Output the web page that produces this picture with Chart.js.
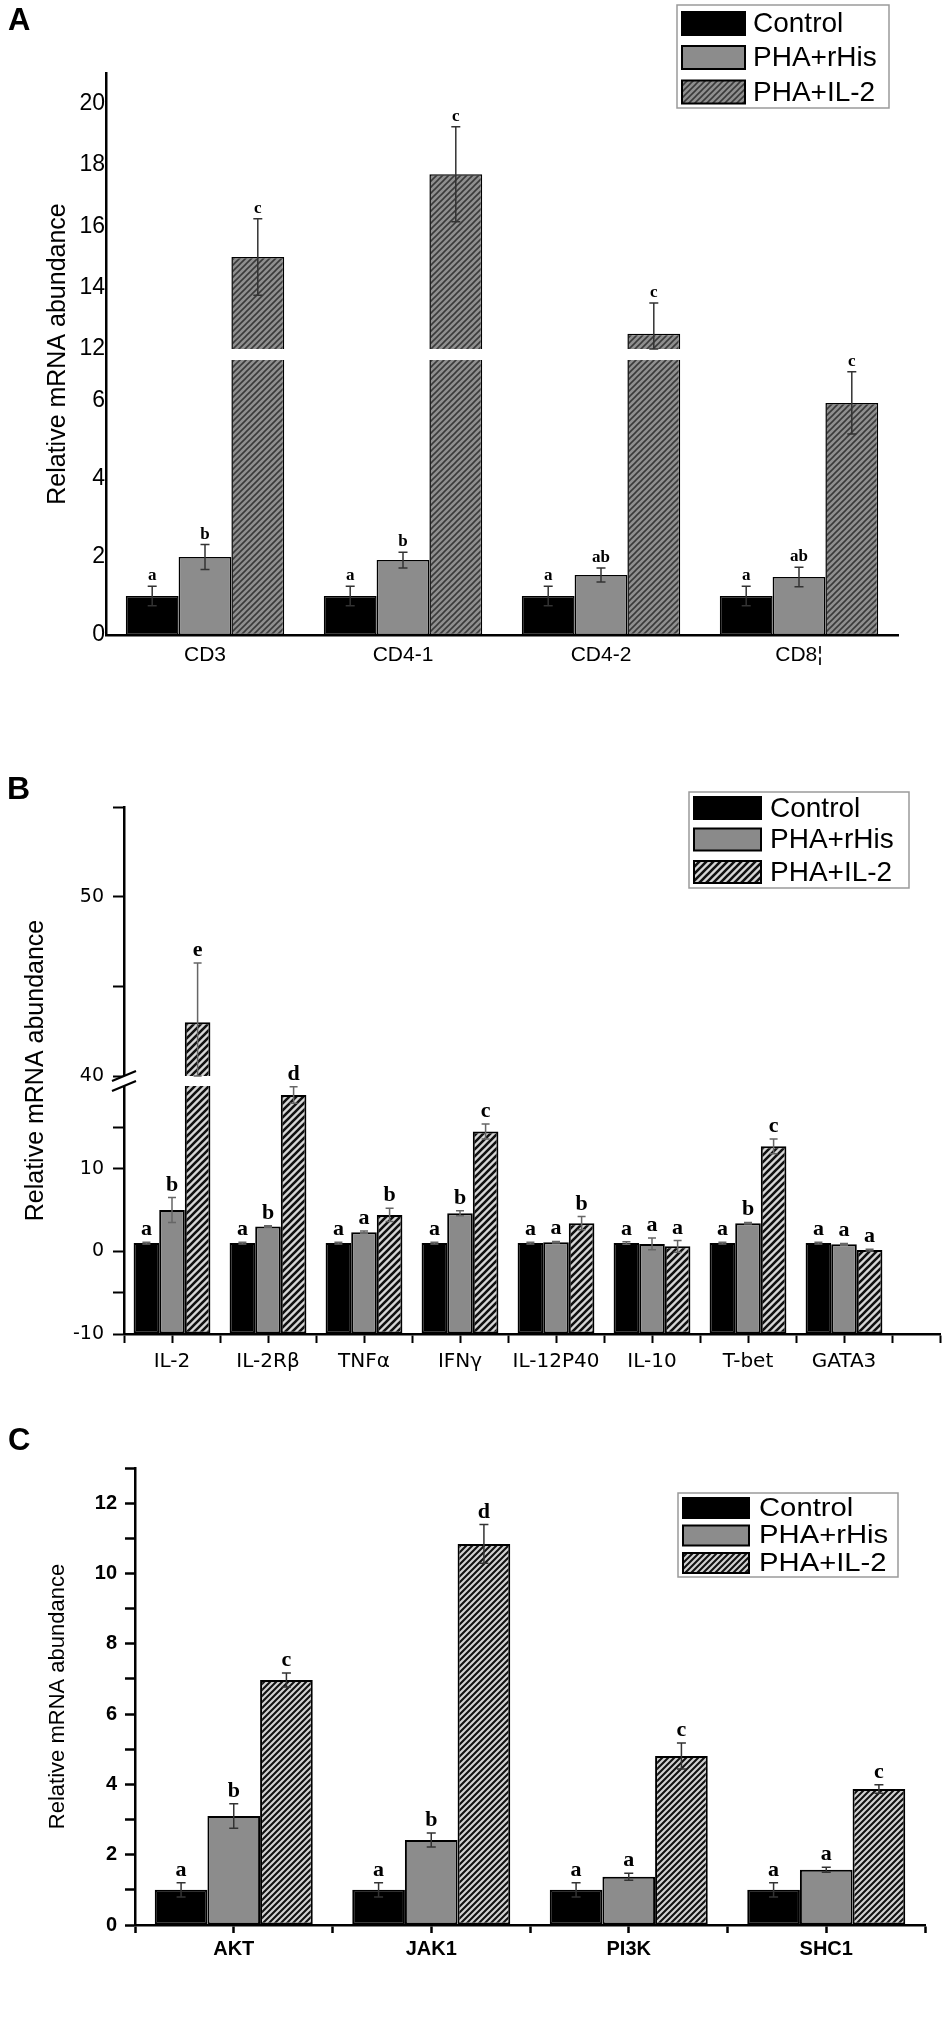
<!DOCTYPE html>
<html><head><meta charset="utf-8">
<script src="https://cdn.jsdelivr.net/npm/chart.js@4.4.1/dist/chart.umd.min.js"></script>
<style>
html,body{margin:0;padding:0;background:#fff;}
#page{position:relative;width:950px;height:2044px;overflow:hidden;background:#fff;}
canvas{position:absolute;left:0;}
.plbl{position:absolute;font-family:Arial,"Liberation Sans",sans-serif;font-weight:bold;color:#000;line-height:1;}
</style></head><body>
<div id="page">
<canvas id="cA" width="950" height="700" style="top:0px"></canvas>
<canvas id="cB" width="950" height="700" style="top:700px"></canvas>
<canvas id="cC" width="950" height="644" style="top:1400px"></canvas>
<div class="plbl" style="left:8px;top:4px;font-size:31px;">A</div>
<div class="plbl" style="left:7px;top:772px;font-size:32px;">B</div>
<div class="plbl" style="left:8px;top:1424px;font-size:31px;">C</div>
</div>
<script>
// ---------------- DATA ----------------
const seriesNames = ['Control', 'PHA+rHis', 'PHA+IL-2'];

// Panel A
const catsA = ['CD3', 'CD4-1', 'CD4-2', 'CD8¦'];
const ctrlA = [1.0, 1.0, 1.0, 1.0];
const ctrlErrA = [0.25, 0.25, 0.25, 0.25];
const rhisA = [2.0, 1.92, 1.54, 1.49];
const rhisErrA = [0.32, 0.2, 0.18, 0.25];
const il2A = [15.0, 17.7, 12.5, 5.95];
const il2ErrA = [1.25, 1.55, 1.0, 0.8];
const ctrlLetA = ['a', 'a', 'a', 'a'];
const rhisLetA = ['b', 'b', 'ab', 'ab'];
const il2LetA = ['c', 'c', 'c', 'c'];
const yTicksA = [0, 2, 4, 6, 12, 14, 16, 18, 20];

// Panel B
const catsB = ['IL-2', 'IL-2Rβ', 'TNFα', 'IFNγ', 'IL-12P40', 'IL-10', 'T-bet', 'GATA3'];
const ctrlB = [1, 1, 1, 1, 1, 1, 1, 1];
const ctrlErrB = [0.1, 0.1, 0.1, 0.1, 0.1, 0.15, 0.1, 0.1];
const rhisB = [5.0, 3.0, 2.3, 4.6, 1.1, 0.9, 3.4, 0.85];
const rhisErrB = [1.5, 0.1, 0.15, 0.3, 0.1, 0.7, 0.1, 0.1];
const il2B = [43.0, 18.9, 4.4, 14.5, 3.4, 0.6, 12.7, 0.15];
const il2ErrB = [3.3, 1.0, 0.8, 0.9, 0.8, 0.7, 0.9, 0.1];
const ctrlLetB = ['a', 'a', 'a', 'a', 'a', 'a', 'a', 'a'];
const rhisLetB = ['b', 'b', 'a', 'b', 'a', 'a', 'b', 'a'];
const il2LetB = ['e', 'd', 'b', 'c', 'b', 'a', 'c', 'a'];
const yTicksB = [-10, -5, 0, 10, 15, 40, 45, 50, 55];
const yLabelsB = [-10, 0, 10, 40, 50];

// Panel C
const catsC = ['AKT', 'JAK1', 'PI3K', 'SHC1'];
const ctrlC = [1.0, 1.0, 1.0, 1.0];
const ctrlErrC = [0.2, 0.2, 0.2, 0.2];
const rhisC = [3.1, 2.42, 1.37, 1.57];
const rhisErrC = [0.35, 0.2, 0.1, 0.07];
const il2C = [6.97, 10.84, 4.81, 3.87];
const il2ErrC = [0.2, 0.55, 0.37, 0.12];
const ctrlLetC = ['a', 'a', 'a', 'a'];
const rhisLetC = ['b', 'b', 'a', 'a'];
const il2LetC = ['c', 'd', 'c', 'c'];

// ---------------- STYLE / LAYOUT ----------------
const SANS = 'Arial, "Liberation Sans", sans-serif';
const WIDE = '"DejaVu Sans", Verdana, sans-serif';
const SERIF = '"Times New Roman", "Liberation Serif", serif';

// axis breaks (value range hidden, and share of axis height)
const BREAKS = {
  cA: {low: 7.05, high: 12, lowFrac: 275 / 562, gapFrac: 11 / 562, ticks: yTicksA},
  cB: {low: 20, high: 40, lowFrac: 248 / 527, gapFrac: 10 / 527, ticks: yTicksB}
};

const STYLE = {
  cA: {errColor: '#333', errWidth: 1.5, cap: 9, letterFont: 'bold 17px ' + SERIF, letterGap: 6, breakMarks: false,
       legend: {x: 677, y: 5, w: 212, h: 103, sx: 682, sw: 63, sh: 23, rows: [23.5, 57.5, 92], tx: 753, font: '28px ' + SANS, scaleX: 1}},
  cB: {errColor: '#666', errWidth: 1.5, cap: 8, letterFont: 'bold 22px ' + SERIF, letterGap: 7, breakMarks: true,
       legend: {x: 689, y: 92, w: 220, h: 96, sx: 694, sw: 67, sh: 22, rows: [108, 139.5, 172], tx: 770, font: '28px ' + SANS, scaleX: 1}},
  cC: {errColor: '#333', errWidth: 1.5, cap: 9, letterFont: 'bold 22px ' + SERIF, letterGap: 7, breakMarks: false,
       legend: {x: 678, y: 93, w: 220, h: 84, sx: 683, sw: 66, sh: 20, rows: [108, 135.5, 163], tx: 759, font: '25px ' + SANS, scaleX: 1.17}}
};

// ---------------- BROKEN AXIS SCALE ----------------
class BrokenLinearScale extends Chart.LinearScale {
  buildTicks() {
    const b = BREAKS[this.chart.canvas.id];
    return b.ticks.map(v => ({value: v}));
  }
  _seg() {
    const b = BREAKS[this.chart.canvas.id];
    const H = this.bottom - this.top;
    const lowPx = H * b.lowFrac, gapPx = H * b.gapFrac;
    return {b, lowPx, gapPx, upPx: H - lowPx - gapPx};
  }
  getPixelForValue(v) {
    const {b, lowPx, gapPx, upPx} = this._seg();
    if (v > b.low && v < b.high) v = (v - b.low < b.high - v) ? b.low : b.high;
    if (v <= b.low) return this.bottom - (v - this.min) / (b.low - this.min) * lowPx;
    return this.bottom - lowPx - gapPx - (v - b.high) / (this.max - b.high) * upPx;
  }
  getValueForPixel(p) {
    const {b, lowPx, gapPx, upPx} = this._seg();
    const d = this.bottom - p;
    if (d <= lowPx) return this.min + d / lowPx * (b.low - this.min);
    if (d <= lowPx + gapPx) return b.low;
    return b.high + (d - lowPx - gapPx) / upPx * (this.max - b.high);
  }
}
BrokenLinearScale.id = 'brokenLinear';
Chart.register(BrokenLinearScale);

// ---------------- OVERLAY PLUGIN (error bars, letters, break, legend) ----------------
const overlay = {
  id: 'overlay',
  afterDatasetsDraw(chart) {
    const id = chart.canvas.id;
    const st = STYLE[id];
    const {ctx, chartArea: ca} = chart;
    const y = chart.scales.y;
    ctx.save();
    const brk = BREAKS[id];
    if (brk) {
      const yTop = y.getPixelForValue(brk.high), yBot = y.getPixelForValue(brk.low);
      ctx.fillStyle = '#fff';
      ctx.fillRect(ca.left + 2, yTop, ca.right - ca.left - 2, yBot - yTop);
    }
    chart.data.datasets.forEach((ds, di) => {
      const meta = chart.getDatasetMeta(di);
      meta.data.forEach((bar, i) => {
        const v = ds.data[i].y, e = ds.errs[i];
        const cx = bar.x;
        const yHi = y.getPixelForValue(v + e), yLo = y.getPixelForValue(v - e);
        ctx.strokeStyle = st.errColor;
        ctx.lineWidth = st.errWidth;
        ctx.beginPath();
        ctx.moveTo(cx, yHi); ctx.lineTo(cx, yLo);
        ctx.moveTo(cx - st.cap / 2, yHi); ctx.lineTo(cx + st.cap / 2, yHi);
        ctx.moveTo(cx - st.cap / 2, yLo); ctx.lineTo(cx + st.cap / 2, yLo);
        ctx.stroke();
        ctx.fillStyle = '#000';
        ctx.font = st.letterFont;
        ctx.textAlign = 'center';
        ctx.textBaseline = 'alphabetic';
        ctx.fillText(ds.letters[i], cx, Math.min(yHi, bar.y) - st.letterGap);
      });
    });
    ctx.restore();
  },
  afterDraw(chart) {
    const id = chart.canvas.id;
    const st = STYLE[id];
    const {ctx, chartArea: ca} = chart;
    const y = chart.scales.y;
    ctx.save();
    if (st.breakMarks) {
      const brk = BREAKS[id];
      const yA = y.getPixelForValue(brk.high), yB = y.getPixelForValue(brk.low);
      const xl = ca.left;
      ctx.fillStyle = '#fff';
      ctx.beginPath();
      ctx.moveTo(xl - 12, yA + 5); ctx.lineTo(xl + 12, yA - 5);
      ctx.lineTo(xl + 12, yB - 5); ctx.lineTo(xl - 12, yB + 5);
      ctx.closePath(); ctx.fill();
      ctx.strokeStyle = '#000'; ctx.lineWidth = 2.2;
      ctx.beginPath();
      ctx.moveTo(xl - 12, yA + 5); ctx.lineTo(xl + 12, yA - 5);
      ctx.moveTo(xl - 12, yB + 5); ctx.lineTo(xl + 12, yB - 5);
      ctx.stroke();
    }
    const L = st.legend;
    ctx.fillStyle = '#fff';
    ctx.fillRect(L.x, L.y, L.w, L.h);
    ctx.strokeStyle = '#9a9a9a'; ctx.lineWidth = 1.5;
    ctx.strokeRect(L.x, L.y, L.w, L.h);
    chart.data.datasets.forEach((ds, k) => {
      const cy = L.rows[k];
      ctx.fillStyle = ds.backgroundColor;
      ctx.fillRect(L.sx, cy - L.sh / 2, L.sw, L.sh);
      ctx.strokeStyle = '#000'; ctx.lineWidth = 2;
      ctx.strokeRect(L.sx, cy - L.sh / 2, L.sw, L.sh);
      ctx.fillStyle = '#000';
      ctx.font = L.font;
      ctx.textAlign = 'left';
      ctx.textBaseline = 'middle';
      ctx.save();
      ctx.translate(L.tx, cy + 1);
      ctx.scale(L.scaleX, 1);
      ctx.fillText(ds.label, 0, 0);
      ctx.restore();
    });
    ctx.restore();
  }
};

// ---------------- HELPERS ----------------
function hatch(ctx, bg, fg, step, lw) {
  const c = document.createElement('canvas');
  c.width = step; c.height = step;
  const g = c.getContext('2d');
  g.fillStyle = bg; g.fillRect(0, 0, step, step);
  g.strokeStyle = fg; g.lineWidth = lw;
  g.beginPath();
  g.moveTo(-2, step + 2); g.lineTo(step + 2, -2);
  g.moveTo(-2, 2); g.lineTo(2, -2);
  g.moveTo(step - 2, step + 2); g.lineTo(step + 2, step - 2);
  g.stroke();
  return ctx.createPattern(c, 'repeat');
}
function catLabel(cats) {
  return v => {
    const r = Math.round(v);
    return (Math.abs(v - r) < 1e-6 && r >= 1 && r <= cats.length) ? cats[r - 1] : '';
  };
}
function makeDatasets(values, errs, letters, fills, borderWidth, base) {
  return values.map((vals, k) => ({
    label: seriesNames[k],
    data: vals.map((v, i) => ({x: i + 1, y: v})),
    errs: errs[k],
    letters: letters[k],
    backgroundColor: fills[k],
    borderColor: '#000',
    borderWidth: borderWidth,
    borderSkipped: false,
    base: base,
    // x ticks step is half a category, so 1.6 of a tick step = 0.8 of a category
    categoryPercentage: 1.6,
    barPercentage: 1.0
  }));
}
const commonOpts = {
  responsive: false,
  animation: false,
  events: [],
  plugins: {legend: {display: false}, tooltip: {enabled: false}}
};

// ---------------- PANEL A ----------------
(function () {
  const ctx = document.getElementById('cA').getContext('2d');
  const fills = ['#000000', '#8c8c8c', hatch(ctx, '#8f8f8f', '#3a3a3a', 6, 1.6)];
  new Chart(ctx, {
    type: 'bar',
    data: {datasets: makeDatasets([ctrlA, rhisA, il2A], [ctrlErrA, rhisErrA, il2ErrA], [ctrlLetA, rhisLetA, il2LetA], fills, 1.5, 0)},
    options: Object.assign({}, commonOpts, {
      layout: {padding: {top: 73, right: 52, left: 0, bottom: 0}},
      scales: {
        x: {
          type: 'linear', min: 0.5, max: catsA.length + 0.5, offset: false,
          grid: {display: false, drawTicks: false, offset: false},
          border: {display: true, color: '#000', width: 2.5},
          ticks: {stepSize: 0.5, autoSkip: false, maxRotation: 0, padding: 8, color: '#000',
                  font: {family: SANS, size: 21}, callback: catLabel(catsA)},
          afterFit: s => { s.height = 65; }
        },
        y: {
          type: 'brokenLinear', min: 0, max: 21,
          grid: {display: false, drawTicks: false},
          border: {display: true, color: '#000', width: 2.5},
          ticks: {padding: 1, color: '#000', font: {family: SANS, size: 23}, callback: v => String(v)},
          title: {display: true, text: 'Relative mRNA abundance', color: '#000',
                  font: {family: SANS, size: 25}, padding: {top: 43, bottom: 0}},
          afterFit: s => { s.width = 106; }
        }
      }
    }),
    plugins: [overlay]
  });
})();

// ---------------- PANEL B ----------------
(function () {
  const ctx = document.getElementById('cB').getContext('2d');
  const fills = ['#000000', '#8a8a8a', hatch(ctx, '#d6d6d6', '#111111', 7, 2.6)];
  new Chart(ctx, {
    type: 'bar',
    data: {datasets: makeDatasets([ctrlB, rhisB, il2B], [ctrlErrB, rhisErrB, il2ErrB], [ctrlLetB, rhisLetB, il2LetB], fills, 2, -10)},
    options: Object.assign({}, commonOpts, {
      layout: {padding: {top: 107, right: 10, left: 0, bottom: 0}},
      scales: {
        x: {
          type: 'linear', min: 0.5, max: catsB.length + 1, offset: false,
          grid: {display: true, drawOnChartArea: false, drawTicks: true, tickLength: 9, tickColor: '#000', tickWidth: 2, offset: false},
          border: {display: true, color: '#000', width: 2.5},
          ticks: {stepSize: 0.5, autoSkip: false, maxRotation: 0, padding: 7, color: '#000',
                  font: {family: WIDE, size: 20}, callback: catLabel(catsB)},
          afterFit: s => { s.height = 66; }
        },
        y: {
          type: 'brokenLinear', min: -10, max: 55,
          grid: {display: true, drawOnChartArea: false, drawTicks: true, tickLength: 11, tickColor: '#000', tickWidth: 2},
          border: {display: true, color: '#000', width: 2.5},
          ticks: {padding: 9, color: '#000', font: {family: WIDE, size: 19},
                  callback: v => yLabelsB.includes(v) ? String(v) : ''},
          title: {display: true, text: 'Relative mRNA abundance', color: '#000',
                  font: {family: SANS, size: 25}, padding: {top: 21, bottom: 0}},
          afterFit: s => { s.width = 124; }
        }
      }
    }),
    plugins: [overlay]
  });
})();

// ---------------- PANEL C ----------------
(function () {
  const ctx = document.getElementById('cC').getContext('2d');
  const fills = ['#000000', '#8c8c8c', hatch(ctx, '#d2d2d2', '#111111', 6, 2.1)];
  new Chart(ctx, {
    type: 'bar',
    data: {datasets: makeDatasets([ctrlC, rhisC, il2C], [ctrlErrC, rhisErrC, il2ErrC], [ctrlLetC, rhisLetC, il2LetC], fills, 2, 0)},
    options: Object.assign({}, commonOpts, {
      layout: {padding: {top: 68, right: 25, left: 0, bottom: 0}},
      scales: {
        x: {
          type: 'linear', min: 0.5, max: catsC.length + 0.5, offset: false,
          grid: {display: true, drawOnChartArea: false, drawTicks: true, tickLength: 8, tickColor: '#000', tickWidth: 2.5, offset: false},
          border: {display: true, color: '#000', width: 2.5},
          ticks: {stepSize: 0.5, autoSkip: false, maxRotation: 0, padding: 4, color: '#000',
                  font: {family: SANS, size: 20, weight: 'bold'}, callback: catLabel(catsC)},
          afterFit: s => { s.height = 119; }
        },
        y: {
          type: 'linear', min: 0, max: 13,
          grid: {display: true, drawOnChartArea: false, drawTicks: true, tickLength: 10, tickColor: '#000', tickWidth: 2.5},
          border: {display: true, color: '#000', width: 2.5},
          ticks: {stepSize: 1, padding: 8, color: '#000', font: {family: SANS, size: 20, weight: 'bold'},
                  callback: v => (v % 2 === 0) ? String(v) : ''},
          title: {display: true, text: 'Relative mRNA abundance', color: '#000',
                  font: {family: SANS, size: 22}, padding: {top: 45, bottom: 0}},
          afterFit: s => { s.width = 135; }
        }
      }
    }),
    plugins: [overlay]
  });
})();
</script>
</body></html>
